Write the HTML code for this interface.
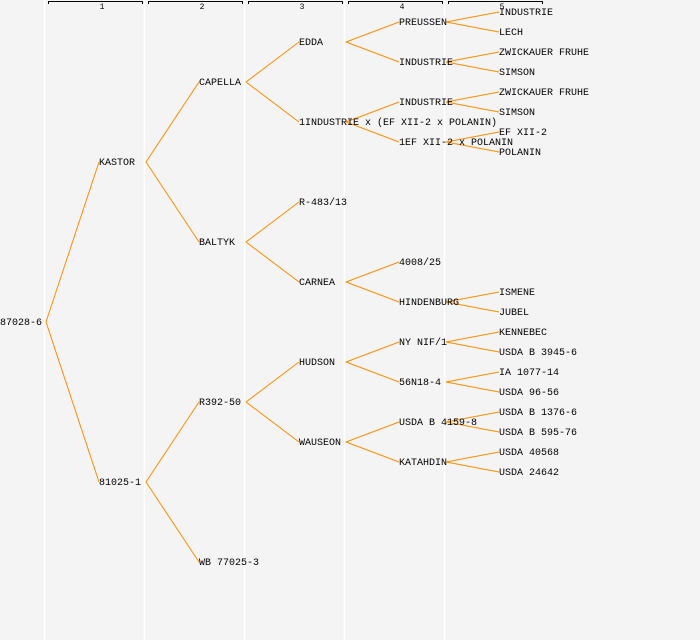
<!DOCTYPE html>
<html><head><meta charset="utf-8"><style>
html,body{margin:0;padding:0;background:#f4f4f4;}
svg{display:block;}
text{font-family:"Liberation Mono",monospace;font-size:10px;fill:#000;dominant-baseline:central;}
.h{font-size:8px;text-anchor:middle;}
line.e{stroke:#ff8c00;stroke-width:1;}
line.v{stroke:#fff;stroke-width:1.5;}
</style></head><body>
<svg width="700" height="640" viewBox="0 0 700 640">
<rect width="700" height="640" fill="#f4f4f4"/>
<line class="v" x1="44.5" y1="0" x2="44.5" y2="640"/>
<line class="v" x1="144.5" y1="0" x2="144.5" y2="640"/>
<line class="v" x1="244.5" y1="0" x2="244.5" y2="640"/>
<line class="v" x1="344.5" y1="0" x2="344.5" y2="640"/>
<line class="v" x1="444.5" y1="0" x2="444.5" y2="640"/>
<g>
<path d="M48.5 4V1.5H142.5V4M148.5 4V1.5H242.5V4M248.5 4V1.5H342.5V4M348.5 4V1.5H442.5V4M448.5 4V1.5H542.5V4" stroke="#000" fill="none"/>
<text class="h" x="102" y="7.5">1</text>
<text class="h" x="202" y="7.5">2</text>
<text class="h" x="302" y="7.5">3</text>
<text class="h" x="402" y="7.5">4</text>
<text class="h" x="502" y="7.5">5</text>
</g>
<g>
<line class="e" x1="46" y1="322" x2="99" y2="162"/>
<line class="e" x1="46" y1="322" x2="99" y2="482"/>
<line class="e" x1="146" y1="162" x2="199" y2="82"/>
<line class="e" x1="146" y1="162" x2="199" y2="242"/>
<line class="e" x1="146" y1="482" x2="199" y2="402"/>
<line class="e" x1="146" y1="482" x2="199" y2="562"/>
<line class="e" x1="246" y1="82" x2="299" y2="42"/>
<line class="e" x1="246" y1="82" x2="299" y2="122"/>
<line class="e" x1="246" y1="242" x2="299" y2="202"/>
<line class="e" x1="246" y1="242" x2="299" y2="282"/>
<line class="e" x1="246" y1="402" x2="299" y2="362"/>
<line class="e" x1="246" y1="402" x2="299" y2="442"/>
<line class="e" x1="346" y1="42" x2="399" y2="22"/>
<line class="e" x1="346" y1="42" x2="399" y2="62"/>
<line class="e" x1="346" y1="122" x2="399" y2="102"/>
<line class="e" x1="346" y1="122" x2="399" y2="142"/>
<line class="e" x1="346" y1="282" x2="399" y2="262"/>
<line class="e" x1="346" y1="282" x2="399" y2="302"/>
<line class="e" x1="346" y1="362" x2="399" y2="342"/>
<line class="e" x1="346" y1="362" x2="399" y2="382"/>
<line class="e" x1="346" y1="442" x2="399" y2="422"/>
<line class="e" x1="346" y1="442" x2="399" y2="462"/>
<line class="e" x1="446" y1="22" x2="499" y2="12"/>
<line class="e" x1="446" y1="22" x2="499" y2="32"/>
<line class="e" x1="446" y1="62" x2="499" y2="52"/>
<line class="e" x1="446" y1="62" x2="499" y2="72"/>
<line class="e" x1="446" y1="102" x2="499" y2="92"/>
<line class="e" x1="446" y1="102" x2="499" y2="112"/>
<line class="e" x1="446" y1="142" x2="499" y2="132"/>
<line class="e" x1="446" y1="142" x2="499" y2="152"/>
<line class="e" x1="446" y1="302" x2="499" y2="292"/>
<line class="e" x1="446" y1="302" x2="499" y2="312"/>
<line class="e" x1="446" y1="342" x2="499" y2="332"/>
<line class="e" x1="446" y1="342" x2="499" y2="352"/>
<line class="e" x1="446" y1="382" x2="499" y2="372"/>
<line class="e" x1="446" y1="382" x2="499" y2="392"/>
<line class="e" x1="446" y1="422" x2="499" y2="412"/>
<line class="e" x1="446" y1="422" x2="499" y2="432"/>
<line class="e" x1="446" y1="462" x2="499" y2="452"/>
<line class="e" x1="446" y1="462" x2="499" y2="472"/>
</g>
<g transform="translate(0,1.5)" style="font-size:10.5px">
<text x="0" y="322">87028-6</text>
<text x="99" y="162">KASTOR</text>
<text x="99" y="482">81025-1</text>
<text x="199" y="82">CAPELLA</text>
<text x="199" y="242">BALTYK</text>
<text x="199" y="402">R392-50</text>
<text x="199" y="562">WB 77025-3</text>
<text x="299" y="42">EDDA</text>
<text x="299" y="122">1INDUSTRIE x (EF XII-2 x POLANIN)</text>
<text x="299" y="202">R-483/13</text>
<text x="299" y="282">CARNEA</text>
<text x="299" y="362">HUDSON</text>
<text x="299" y="442">WAUSEON</text>
<text x="399" y="22">PREUSSEN</text>
<text x="399" y="62">INDUSTRIE</text>
<text x="399" y="102">INDUSTRIE</text>
<text x="399" y="142">1EF XII-2 x POLANIN</text>
<text x="399" y="262">4008/25</text>
<text x="399" y="302">HINDENBURG</text>
<text x="399" y="342">NY NIF/1</text>
<text x="399" y="382">56N18-4</text>
<text x="399" y="422">USDA B 4159-8</text>
<text x="399" y="462">KATAHDIN</text>
<text x="499" y="12">INDUSTRIE</text>
<text x="499" y="32">LECH</text>
<text x="499" y="52">ZWICKAUER FRUHE</text>
<text x="499" y="72">SIMSON</text>
<text x="499" y="92">ZWICKAUER FRUHE</text>
<text x="499" y="112">SIMSON</text>
<text x="499" y="132">EF XII-2</text>
<text x="499" y="152">POLANIN</text>
<text x="499" y="292">ISMENE</text>
<text x="499" y="312">JUBEL</text>
<text x="499" y="332">KENNEBEC</text>
<text x="499" y="352">USDA B 3945-6</text>
<text x="499" y="372">IA 1077-14</text>
<text x="499" y="392">USDA 96-56</text>
<text x="499" y="412">USDA B 1376-6</text>
<text x="499" y="432">USDA B 595-76</text>
<text x="499" y="452">USDA 40568</text>
<text x="499" y="472">USDA 24642</text>
</g>
</svg>
</body></html>
